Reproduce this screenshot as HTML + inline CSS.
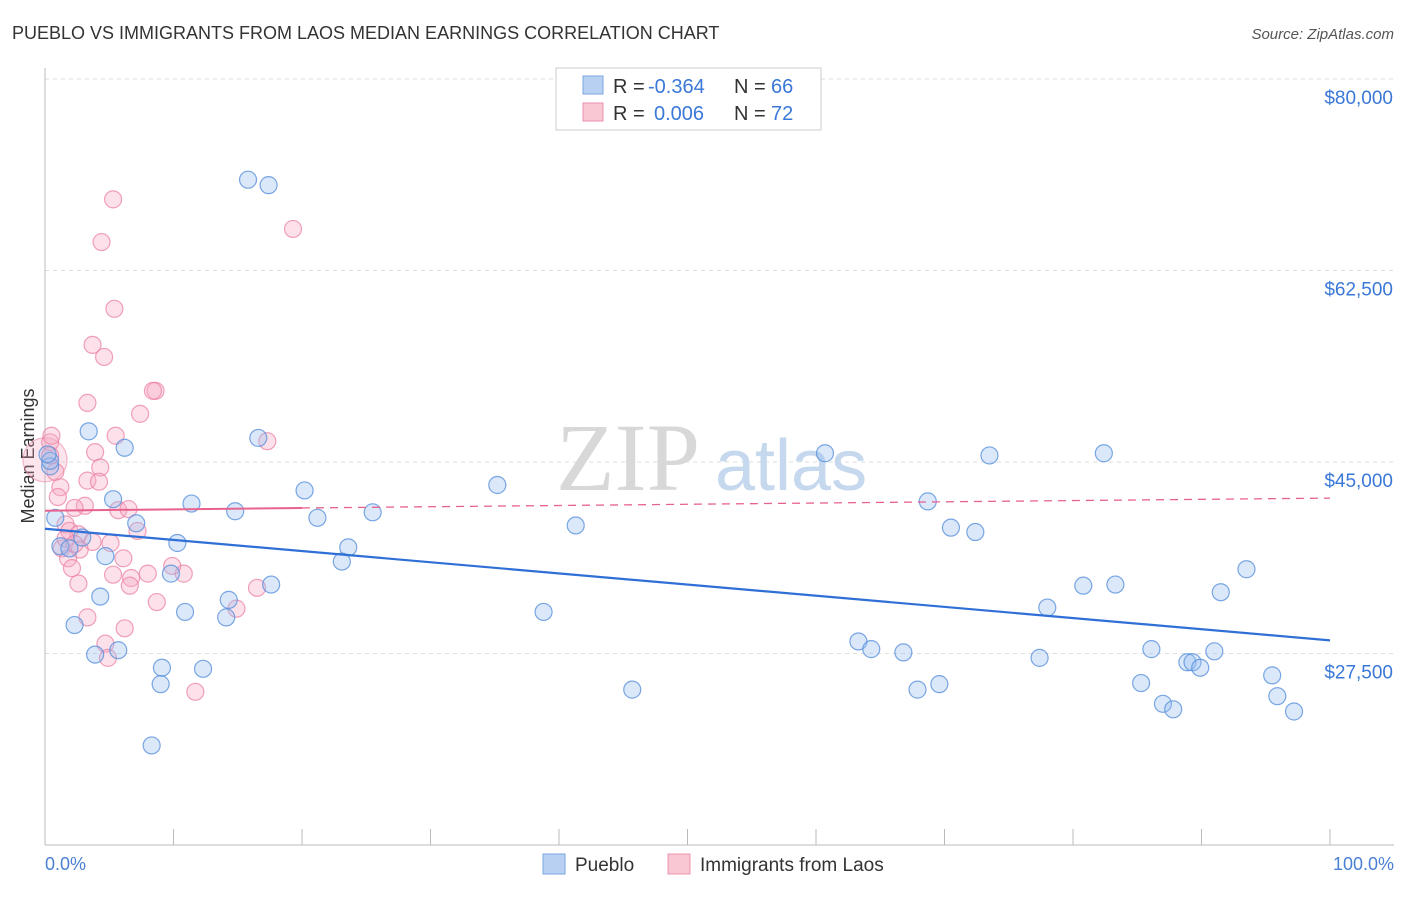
<!DOCTYPE html>
<html><head><meta charset="utf-8"><style>
body{margin:0;background:#fff;font-family:"Liberation Sans",sans-serif;}
</style></head><body>
<svg width="1406" height="892" xmlns="http://www.w3.org/2000/svg">
<text x="12" y="39" font-size="18" fill="#333">PUEBLO VS IMMIGRANTS FROM LAOS MEDIAN EARNINGS CORRELATION CHART</text>
<text x="1394" y="39" font-size="15" fill="#555" font-style="italic" text-anchor="end">Source: ZipAtlas.com</text>
<g id="grid"></g>
<text x="700" y="490" font-size="96" fill="#d8d8d8" font-family="Liberation Serif" text-anchor="end">ZIP</text>
<text x="715" y="490" font-size="72" fill="#c5d8ee">atlas</text>
<line x1="45" y1="68" x2="45" y2="845" stroke="#bbb"/>
<line x1="45" y1="845" x2="1394" y2="845" stroke="#bbb"/>
<g id="ticks"></g>
<text transform="translate(34,456) rotate(-90)" font-size="18" fill="#333" text-anchor="middle">Median Earnings</text>
<text x="45" y="870" font-size="18" fill="#4a7fd4">0.0%</text>
<text x="1394" y="870" font-size="18" fill="#4a7fd4" text-anchor="end">100.0%</text>
<g id="pts"></g>
<g id="trend"></g>
<g>
<rect x="556" y="68" width="265" height="62" fill="#fff" stroke="#ccc"/>
<rect x="583" y="76" width="20" height="18" fill="#b8d0f2" stroke="#7aa6e0"/>
<rect x="583" y="103" width="20" height="18" fill="#f9c6d4" stroke="#ec93ad"/>
<text x="613" y="93" font-size="20" fill="#333">R =</text>
<text x="648" y="93" font-size="20" fill="#3a78d8">-0.364</text>
<text x="734" y="93" font-size="20" fill="#333">N =</text>
<text x="771" y="93" font-size="20" fill="#3a78d8">66</text>
<text x="613" y="120" font-size="20" fill="#333">R =</text>
<text x="654" y="120" font-size="20" fill="#3a78d8">0.006</text>
<text x="734" y="120" font-size="20" fill="#333">N =</text>
<text x="771" y="120" font-size="20" fill="#3a78d8">72</text>
</g>
<g>
<rect x="543" y="854" width="22" height="20" fill="#b8d0f2" stroke="#7aa6e0"/>
<text x="575" y="871" font-size="19" fill="#333">Pueblo</text>
<rect x="668" y="854" width="22" height="20" fill="#f9c6d4" stroke="#ec93ad"/>
<text x="700" y="871" font-size="19" fill="#333">Immigrants from Laos</text>
</g>
</svg>
<script>
const yTicks=[80000,62500,45000,27500];
const yTickLabels=["$80,000","$62,500","$45,000","$27,500"];
const blueX=[15.8,17.4,3.4,6.2,16.6,0.4,5.3,11.4,14.8,20.2,21.2,7.1,0.8,25.5,35.2,41.3,60.7,73.5,82.4,68.7,70.5,72.4,10.3,1.2,1.9,2.9,4.7,23.6,23.1,17.6,9.8,4.3,14.3,10.9,14.1,38.8,2.3,3.9,5.7,9.1,12.3,9.0,8.3,45.7,63.3,64.3,66.8,67.9,69.6,77.4,78.0,80.8,83.3,86.1,85.3,87.0,87.8,88.9,89.3,89.9,91.0,91.5,93.5,95.5,95.9,97.2,0.4,0.2];
const blueY=[70800,70300,47800,46300,47200,44600,41600,41200,40500,42400,39900,39400,39900,40400,42900,39200,45800,45600,45800,41400,39000,38600,37600,37300,37100,38100,36400,37200,35900,33800,34800,32700,32400,31300,30800,31300,30100,27400,27800,26200,26100,24700,19100,24200,28600,27900,27600,24200,24700,27100,31700,33700,33800,27900,24800,22900,22400,26700,26700,26200,27700,33100,35200,25500,23600,22200,45100,45700];
const pinkX=[5.3,4.4,19.3,5.4,3.7,4.6,8.6,8.4,3.3,7.4,5.5,17.3,3.9,4.3,0.4,0.8,1.2,1.0,3.3,4.2,3.1,2.3,5.7,6.5,1.6,1.9,2.6,7.2,1.3,3.7,5.1,2.7,1.8,6.1,2.1,5.3,6.7,8.0,10.8,9.9,6.6,8.7,16.5,14.9,2.6,3.3,6.2,4.7,4.9,11.7,0.4,0.5,1.6,2.3];
const pinkY=[69000,65100,66300,59000,55700,54600,51500,51500,50400,49400,47400,46900,45900,44500,46800,44100,42700,41800,43300,43200,41000,40800,40600,40700,39300,38700,38400,38700,37100,37700,37600,37000,36200,36200,35300,34700,34400,34800,34800,35500,33700,32200,33500,31600,33900,30800,29800,28400,27100,24000,45600,47400,38000,37500];
const x=p=>45+p*12.85, y=v=>79+(80000-v)/17500*191.5;
const NS="http://www.w3.org/2000/svg";
const grid=document.getElementById('grid');
yTicks.forEach((v,i)=>{
 const l=document.createElementNS(NS,'line');
 l.setAttribute('x1',45);l.setAttribute('x2',1394);l.setAttribute('y1',y(v));l.setAttribute('y2',y(v));
 l.setAttribute('stroke','#ddd');l.setAttribute('stroke-dasharray','4,4');
 
 
 grid.appendChild(l);
 const t=document.createElementNS(NS,'text');
 t.setAttribute('x',1393);t.setAttribute('y',y(v)+25);t.setAttribute('text-anchor','end');
 t.setAttribute('font-size','19');t.setAttribute('fill','#3a78d8');t.textContent=yTickLabels[i];
 
 
 grid.appendChild(t);
});
const ticks=document.getElementById('ticks');
for(let i=1;i<=10;i++){const l=document.createElementNS(NS,'line');
 const xx=45+i*128.5;l.setAttribute('x1',xx);l.setAttribute('x2',xx);l.setAttribute('y1',829);l.setAttribute('y2',845);l.setAttribute('stroke','#bbb');
 
 
 ticks.appendChild(l);}
const pts=document.getElementById('pts');
function dot(px,py,r,fill,stroke,name){const c=document.createElementNS(NS,'circle');
 c.setAttribute('cx',px);c.setAttribute('cy',py);c.setAttribute('r',r);
 c.setAttribute('fill',fill);c.setAttribute('stroke',stroke);c.setAttribute('stroke-width','1.2');
 
 
 pts.appendChild(c);}
dot(x(0),y(45200),22,'rgba(246,170,195,0.3)','rgba(236,140,170,0.6)','pink-large-point');
pinkX.forEach((p,i)=>dot(x(p),y(pinkY[i]),8.5,'rgba(246,170,195,0.35)','rgba(236,130,165,0.75)','pink-point'));
blueX.forEach((p,i)=>dot(x(p),y(blueY[i]),8.5,'rgba(150,190,240,0.35)','rgba(90,145,220,0.8)','blue-point'));
const tr=document.getElementById('trend');
function line(a,b,c,d,col,w,dash,name){const l=document.createElementNS(NS,'line');
 l.setAttribute('x1',a);l.setAttribute('y1',b);l.setAttribute('x2',c);l.setAttribute('y2',d);
 l.setAttribute('stroke',col);l.setAttribute('stroke-width',w);if(dash)l.setAttribute('stroke-dasharray',dash);
 
 
 tr.appendChild(l);}
line(x(0),y(38900),x(100),y(28700),'#2f6fd6',2.2,null,'pueblo-trend-line');
line(x(0),y(40550),x(20),y(40800),'#e8628e',2,null,'laos-trend-line');
line(x(20),y(40800),x(100),y(41700),'#e8628e',1.3,'8,6','laos-trend-line-dashed');
</script>
</body></html>
